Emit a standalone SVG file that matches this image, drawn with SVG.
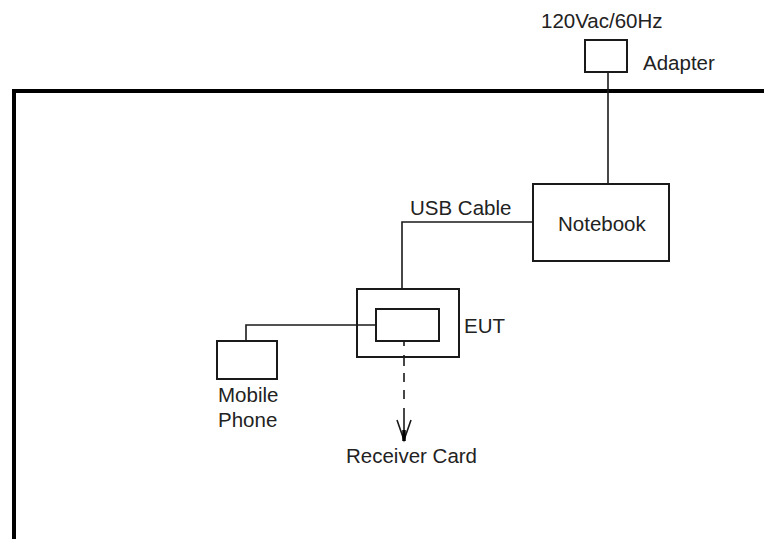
<svg xmlns="http://www.w3.org/2000/svg" width="764" height="539" viewBox="0 0 764 539">
<style>
.box{fill:none;stroke:#1a1a1a;stroke-width:2}
.wire{fill:none;stroke:#1a1a1a;stroke-width:1.6}
.lbl{font-family:"Liberation Sans",Arial,sans-serif;font-size:20.5px;fill:#222}
</style>
<rect width="764" height="539" fill="#fff"/>
<path d="M14,539 V91 H764" fill="none" stroke="#000" stroke-width="4"/>
<g id="connectors">
<path class="wire" d="M608,72 V184"/>
<path class="wire" d="M532,222 H402 V289"/>
<path class="wire" d="M376,325 H246 V341"/>
<path class="wire" d="M404,341 V408" stroke-dasharray="5 9 11 7 9 8 9 9"/>
<path class="wire" d="M404,408 V436"/>
<path class="wire" d="M397,420 L404,440 L411,420"/>
<path d="M404,430 V441" stroke="#000" stroke-width="3.5"/>
</g>
<g id="power">
<text class="lbl" x="541" y="28">120Vac/60Hz</text>
</g>
<g id="adapter">
<rect class="box" x="585" y="40" width="42" height="32"/>
<text class="lbl" x="643" y="70">Adapter</text>
</g>
<g id="notebook">
<rect class="box" x="533" y="184" width="136" height="77"/>
<text class="lbl" x="558" y="231">Notebook</text>
</g>
<g id="usb-cable">
<text class="lbl" x="410" y="215" font-size="20px">USB Cable</text>
</g>
<g id="eut">
<rect class="box" x="357" y="289" width="102" height="68"/>
<rect class="box" x="376" y="309" width="63" height="32"/>
<text class="lbl" x="464" y="333">EUT</text>
</g>
<g id="mobile-phone">
<rect class="box" x="217" y="341" width="60" height="38"/>
<text class="lbl" x="218" y="402">Mobile</text>
<text class="lbl" x="218" y="427">Phone</text>
</g>
<g id="receiver-card">
<text class="lbl" x="346" y="463">Receiver Card</text>
</g>
</svg>
